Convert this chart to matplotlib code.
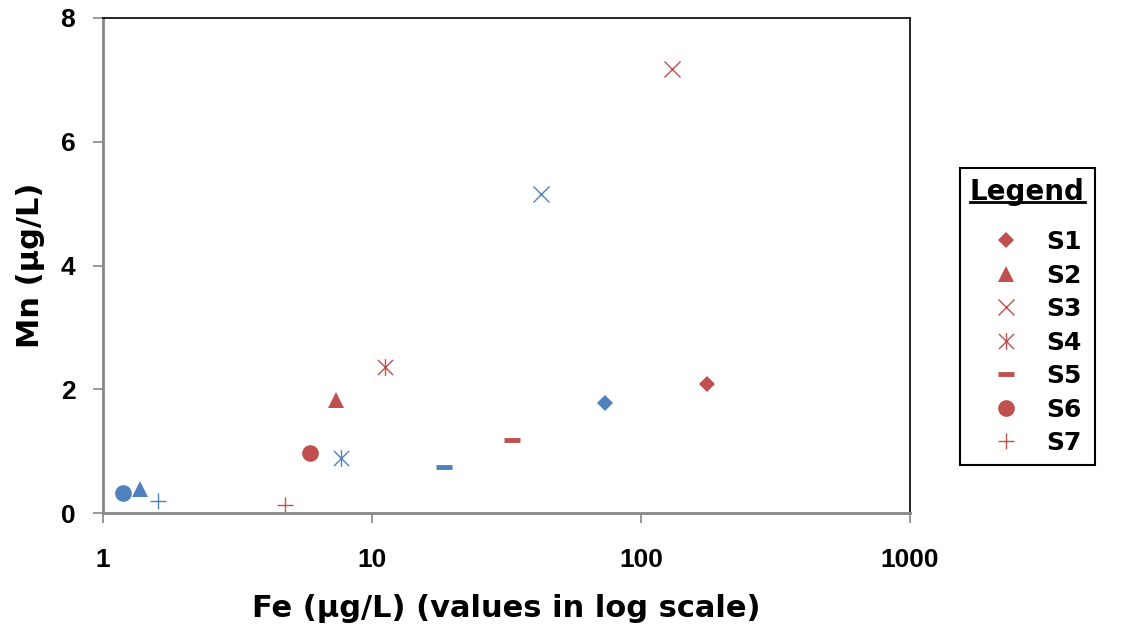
import matplotlib
matplotlib.use("Agg")
import matplotlib.pyplot as plt
from matplotlib.path import Path
from matplotlib.lines import Line2D

RED = "#C0504D"
BLUE = "#4F81BD"
AXIS_GRAY = "#878787"

series = ["S1", "S2", "S3", "S4", "S5", "S6", "S7"]

# Fe / Mn concentrations, two sampling rounds
fe_red = [176, 7.35, 130, 11.2, 33.1, 5.88, 4.75]
mn_red = [2.08, 1.83, 7.17, 2.36, 1.18, 0.97, 0.13]
fe_blue = [73.5, 1.37, 42.5, 7.67, 18.5, 1.19, 1.60]
mn_blue = [1.78, 0.39, 5.15, 0.89, 0.74, 0.32, 0.19]

x_ticks = [1, 10, 100, 1000]
y_ticks = [0, 2, 4, 6, 8]

# X with a vertical bar through it
star = Path(
    [(-1, -1), (1, 1), (-1, 1), (1, -1), (0, -1.1), (0, 1.1)],
    [Path.MOVETO, Path.LINETO, Path.MOVETO, Path.LINETO, Path.MOVETO, Path.LINETO],
)

styles = [
    dict(marker="D", ms=8, mew=0),
    dict(marker="^", ms=12, mew=0),
    dict(marker="x", ms=11, mew=1.0, fill=False),
    dict(marker=star, ms=12, mew=1.0, fill=False),
    dict(marker="_", ms=11, mew=3.5, fill=False),
    dict(marker="o", ms=12, mew=0),
    dict(marker="+", ms=11, mew=1.0, fill=False),
]

fig = plt.figure(figsize=(11.25, 6.29), dpi=100)
ax = fig.add_axes([0.0916, 0.1844, 0.7173, 0.787])

handles = []
for i, st in enumerate(styles):
    for fe, mn, col, keep in ((fe_blue, mn_blue, BLUE, False), (fe_red, mn_red, RED, True)):
        kw = dict(marker=st["marker"], markersize=st["ms"], markeredgewidth=st["mew"],
                  linestyle="none", color=col)
        if st.get("fill", True):
            kw["markerfacecolor"] = col
        (ln,) = ax.plot([fe[i]], [mn[i]], **kw)
        if keep:
            handles.append(ln)

ax.set_xscale("log")
ax.set_xlim(1, 1000)
ax.set_ylim(0, 8)
ax.set_xticks(x_ticks)
ax.set_xticklabels([str(t) for t in x_ticks])
ax.set_yticks(y_ticks)
ax.minorticks_off()

for side in ("left", "bottom"):
    ax.spines[side].set_color(AXIS_GRAY)
    ax.spines[side].set_linewidth(2)
for side in ("top", "right"):
    ax.spines[side].set_color("black")
    ax.spines[side].set_linewidth(1.2)

ax.tick_params(axis="y", direction="out", length=7, width=1.2, color=AXIS_GRAY, pad=13)
ax.tick_params(axis="x", direction="out", length=7, width=1.2, color=AXIS_GRAY, pad=18)
for lbl in ax.get_xticklabels() + ax.get_yticklabels():
    lbl.set_fontfamily("Liberation Sans")
    lbl.set_fontweight("bold")
    lbl.set_fontsize(19)

ax.set_xlabel("Fe (µg/L) (values in log scale)", fontsize=22, fontweight="bold",
              family="DejaVu Sans", labelpad=16)
ax.set_ylabel("Mn (µg/L)", fontsize=22, fontweight="bold", family="DejaVu Sans",
              labelpad=11)

leg = fig.legend(handles, series, loc="upper left", bbox_to_anchor=(0.8533, 0.733),
                 title="Legend", frameon=True, fancybox=False, edgecolor="black",
                 framealpha=1.0,
                 prop=dict(family="DejaVu Sans", weight="bold", size=18),
                 title_fontproperties=dict(family="DejaVu Sans", weight="bold", size=20),
                 handletextpad=0.3, labelspacing=0.38, borderpad=0.4,
                 handlelength=2.6, borderaxespad=0)
leg.get_frame().set_linewidth(1.5)

# underline the legend title, then leave a little room below it
fig.canvas.draw()
bb = leg.get_title().get_window_extent()
y_line = (bb.y0 + 4) / fig.bbox.height
fig.add_artist(Line2D([bb.x0 / fig.bbox.width, bb.x1 / fig.bbox.width], [y_line, y_line],
                      transform=fig.transFigure, color="black", linewidth=2, zorder=10))
leg.get_title().set_text("Legend\n")
leg.get_title().set_linespacing(0.4)

fig.savefig("out.png", dpi=100)
